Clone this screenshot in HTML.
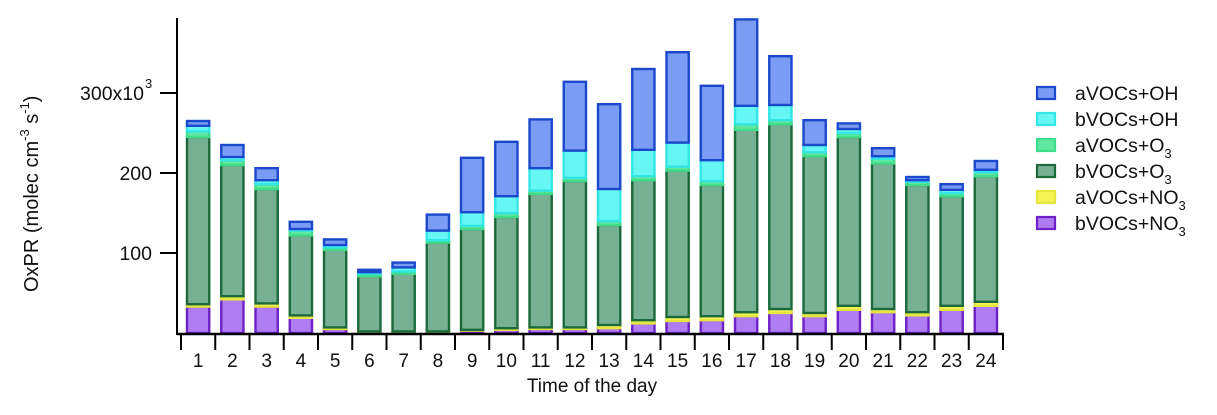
<!DOCTYPE html>
<html><head><meta charset="utf-8"><style>
body{margin:0;background:#fff;width:1217px;height:410px;overflow:hidden;font-family:"Liberation Sans",Arial,sans-serif}
svg text{font-family:"Liberation Sans",Arial,sans-serif;fill:#111}
</style></head><body>
<svg id="chart" width="1217" height="410"></svg>
<script>
const hours=["1","2","3","4","5","6","7","8","9","10","11","12","13","14","15","16","17","18","19","20","21","22","23","24"];
const bNO3=[33,42,33,19,5,1,1,1,3,4,5,5,6,12,15,16,21,25,21,29,26,22,29,34];
const aNO3=[3,4,4,3,2,1,1,1,1,2,2,2,4,4,5,5,5,5,4,5,4,4,5,5];
const bO3=[209,164,143,100,97,69,72,111,126,139,167,183,125,175,183,164,228,231,196,211,182,159,137,157];
const aO3=[7,6,6,6,3,3,3,3,4,5,4,4,5,5,5,5,7,5,5,5,6,4,4,5];
const bOH=[7,4,5,2,3,2,5,12,17,21,28,34,40,33,30,26,23,19,9,5,3,2,4,3];
const aOH=[6,15,15,9,7,3,6,20,68,68,61,86,106,101,113,93,108,61,31,7,10,4,7,11];
const yTicks=[100,200,300];
const yTickLabels=["100","200","300x10"];
const seriesNames=["bVOCs+NO3","aVOCs+NO3","bVOCs+O3","aVOCs+O3","bVOCs+OH","aVOCs+OH"];

const NS="http://www.w3.org/2000/svg";
const svg=document.getElementById('chart');
function mk(t,a,p){const e=document.createElementNS(NS,t);for(const k in a)e.setAttribute(k,a[k]);(p||svg).appendChild(e);return e;}
const x0=181,bw=34.25,y0=333,sc=0.8,axX=177;
const yS=v=>y0-v*sc;
const xS=i=>x0+i*bw;
const styles=[
 {f:"#b07cf2",s:"#6d22c8"},{f:"#f4f455",s:"#e6e640"},{f:"#78b093",s:"#1c6a3b"},
 {f:"#5fe8a2",s:"#3fdc8a"},{f:"#66f7f5",s:"#33e6e6"},{f:"#7b9cf5",s:"#1c48cc"}];
const data=[bNO3,aNO3,bO3,aO3,bOH,aOH];
const keys=["bvocs-no3","avocs-no3","bvocs-o3","avocs-o3","bvocs-oh","avocs-oh"];
hours.forEach((h,i)=>{
  let cum=0;
  data.forEach((arr,k)=>{
    const v=arr[i];const top=cum+v;
    const r=mk('rect',{x:xS(i)+6,y:yS(top),width:bw-12,height:Math.max(0.5,v*sc),fill:styles[k].f,stroke:styles[k].s,'stroke-width':2.4});
    
    
    cum=top;
  });
});
let e=mk('line',{x1:axX,y1:18,x2:axX,y2:y0+2,stroke:'#000','stroke-width':2});

yTicks.forEach((v,i)=>{
  const l=mk('line',{x1:axX-17,y1:yS(v),x2:axX,y2:yS(v),stroke:'#000','stroke-width':2});
  
  const t=mk('text',{x:i==2?144:152,y:yS(v)+7,'text-anchor':'end','font-size':19.5});
  t.textContent=yTickLabels[i];
  
  if(i==2){const s=mk('text',{x:145,y:yS(v)-5,'font-size':13});s.textContent='3';
    }
});
e=mk('line',{x1:axX,y1:y0+1,x2:xS(24)+1,y2:y0+1,stroke:'#000','stroke-width':2.5});

for(let i=0;i<=24;i++){
  const l=mk('line',{x1:xS(i),y1:y0,x2:xS(i),y2:350,stroke:'#000','stroke-width':2});
  
}
hours.forEach((h,i)=>{
  const t=mk('text',{x:xS(i)+bw/2,y:367,'text-anchor':'middle','font-size':19});
  t.textContent=h;
});
e=mk('text',{x:592,y:392,'text-anchor':'middle','font-size':19});
e.textContent='Time of the day';
e=mk('text',{transform:'translate(38,292) rotate(-90)','font-size':20});

e.innerHTML='OxPR (molec cm<tspan dy="-9" font-size="13">-3</tspan><tspan dy="9"> s</tspan><tspan dy="-9" font-size="13">-1</tspan><tspan dy="9">)</tspan>';
const legLabels=[['aVOCs+OH',''],['bVOCs+OH',''],['aVOCs+O','3'],['bVOCs+O','3'],['aVOCs+NO','3'],['bVOCs+NO','3']];
const legStyle=[5,4,3,2,1,0];
legLabels.forEach((lb,j)=>{
  const y=93+j*26;const st=styles[legStyle[j]];
  const g=mk('g',{});
  
  mk('rect',{x:1037,y:y-6,width:18,height:12,fill:st.f,stroke:st.s,'stroke-width':2.2},g);
  const t=mk('text',{x:1075,y:y+7,'font-size':19.5},g);
  t.innerHTML=lb[0]+(lb[1]?'<tspan dy="6" font-size="13">'+lb[1]+'</tspan>':'');
});
</script>
</body></html>
